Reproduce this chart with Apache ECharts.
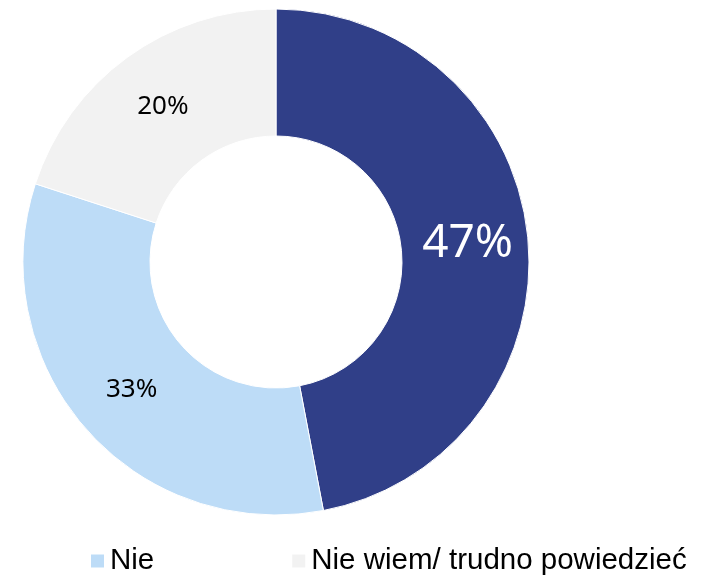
<!DOCTYPE html>
<html>
<head>
<meta charset="utf-8">
<script src="https://cdn.jsdelivr.net/npm/echarts@6/dist/echarts.min.js"></script>
<style>
    html, body { margin: 0; padding: 0; background: #fff; }
    #chart { width: 702px; height: 576px; }
</style>
</head>
<body>
<div id="chart"></div>
<script>
var categories = ['Tak', 'Nie', 'Nie wiem/ trudno powiedzieć'];
var values = [47, 33, 20];
var colors = ['#303f88', '#bddcf7', '#f2f2f2'];
var labelColors = ['#ffffff', '#000000', '#000000'];
var labelSizes = [46, 26, 26];

var pieData = [];
for (let i = 0; i < categories.length; i++) {
    pieData.push({
        name: categories[i],
        value: values[i],
        itemStyle: {color: colors[i]},
        label: {color: labelColors[i], fontSize: labelSizes[i]}
    });
}

var chart = echarts.init(document.getElementById('chart'));
var option = {
    animation: false,
    legend: {
        data: categories.slice(1),
        left: 84,
        top: 541,
        itemWidth: 15,
        itemHeight: 15,
        itemGap: 136,
        icon: 'rect',
        textStyle: {
            fontFamily: '"Liberation Sans", Arial, sans-serif',
            fontSize: 29.5,
            color: '#000'
        }
    },
    series: [
        {
            type: 'pie',
            center: [276, 262],
            radius: [126, 253],
            startAngle: 90,
            clockwise: true,
            data: pieData,
            itemStyle: {
                borderColor: '#ffffff',
                borderWidth: 1
            },
            label: {
                show: true,
                position: 'inside',
                formatter: '{c}%',
                fontFamily: '"Noto Sans", "Open Sans", sans-serif'
            },
            labelLine: {show: false},
            emphasis: {disabled: true}
        }
    ]
};
chart.setOption(option);
</script>
</body>
</html>
